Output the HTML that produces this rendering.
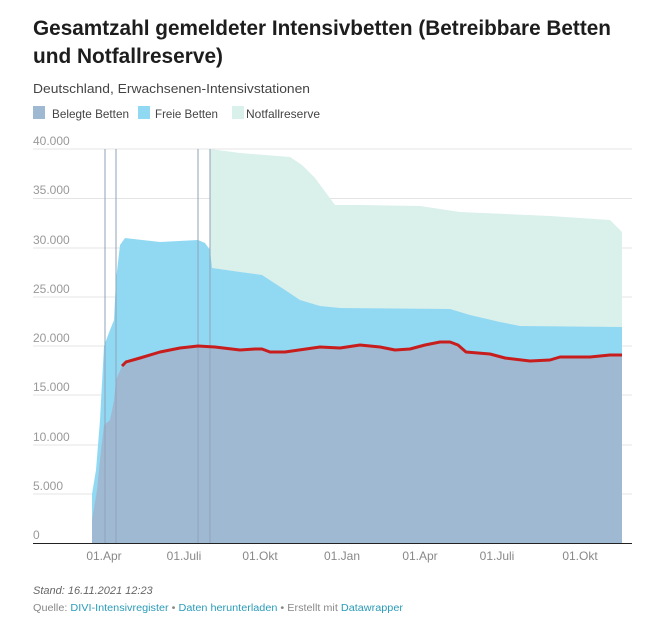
<!DOCTYPE html>
<html><head><meta charset="utf-8"><style>
html,body{margin:0;padding:0;background:#fff;width:658px;height:625px;overflow:hidden}
svg{display:block;font-family:"Liberation Sans",sans-serif}
</style></head><body>
<svg width="658" height="625" viewBox="0 0 658 625">
<text x="33" y="35" font-size="21" font-weight="bold" fill="#1d1d1d" textLength="578" lengthAdjust="spacingAndGlyphs">Gesamtzahl gemeldeter Intensivbetten (Betreibbare Betten</text>
<text x="33" y="63" font-size="21" font-weight="bold" fill="#1d1d1d" textLength="190" lengthAdjust="spacingAndGlyphs">und Notfallreserve)</text>
<text x="33" y="93" font-size="13" fill="#444" textLength="277" lengthAdjust="spacingAndGlyphs">Deutschland, Erwachsenen-Intensivstationen</text>
<rect x="33" y="106" width="12" height="13" fill="#a0b9d3"/>
<text x="52" y="118" font-size="12" fill="#444" textLength="77" lengthAdjust="spacingAndGlyphs">Belegte Betten</text>
<rect x="138" y="106" width="12" height="13" fill="#91d9f3"/>
<text x="155" y="118" font-size="12" fill="#444" textLength="63" lengthAdjust="spacingAndGlyphs">Freie Betten</text>
<rect x="232" y="106" width="12" height="13" fill="#daf0eb"/>
<text x="246" y="118" font-size="12" fill="#444" textLength="74" lengthAdjust="spacingAndGlyphs">Notfallreserve</text>
<g stroke="#e4e4e4" stroke-width="1">
<line x1="33" x2="632" y1="149" y2="149"/><line x1="33" x2="632" y1="198.5" y2="198.5"/>
<line x1="33" x2="632" y1="248" y2="248"/><line x1="33" x2="632" y1="297" y2="297"/>
<line x1="33" x2="632" y1="346" y2="346"/><line x1="33" x2="632" y1="395" y2="395"/>
<line x1="33" x2="632" y1="445" y2="445"/><line x1="33" x2="632" y1="494" y2="494"/>
</g>
<g font-size="12" fill="#999">
<text x="33" y="145">40.000</text><text x="33" y="194">35.000</text><text x="33" y="244">30.000</text>
<text x="33" y="293">25.000</text><text x="33" y="342">20.000</text><text x="33" y="391">15.000</text>
<text x="33" y="441">10.000</text><text x="33" y="490">5.000</text><text x="33" y="539">0</text>
</g>
<path fill="#daf0eb" d="M210,543 L210,149 L240,153 L290,157 L302,165 L315,178 L335,205 L360,205 L420,206 L460,212 L550,216 L610,220 L622,232 L622,543 Z"/>
<path fill="#91d9f3" d="M92,543 L92,494 L96,470 L100,420 L104,346 L110,330 L114,320 L116,280 L120,245 L125,238 L160,242 L198,240 L205,243 L210,250 L212,268 L240,272 L262,275 L285,290 L300,300 L320,306 L340,308 L450,309 L470,315 L500,322 L520,326 L622,327 L622,543 Z"/>
<path fill="#a0b9d3" d="M92,543 L92,520 L97,490 L101,450 L104,425 L110,420 L114,400 L116,380 L122,366 L140,358 L160,352 L180,348 L198,346 L215,347 L240,350 L262,349 L270,352 L285,352 L320,347 L340,348 L360,345 L380,347 L395,350 L410,349 L425,345 L445,342 L458,345 L466,352 L490,354 L505,358 L530,361 L550,360 L560,357 L590,357 L610,355 L622,355 L622,543 Z"/>
<g stroke="#8ea3b8" stroke-width="1">
<line x1="105" x2="105" y1="149" y2="543"/><line x1="116" x2="116" y1="149" y2="543"/>
<line x1="198" x2="198" y1="149" y2="543"/><line x1="210" x2="210" y1="149" y2="543"/>
</g>
<path fill="none" stroke="#c71e1d" stroke-width="3" stroke-linejoin="round" d="M122,366 L126,362 L140,358 L160,352 L180,348 L198,346 L215,347 L240,350 L255,349 L262,349 L270,352 L285,352 L320,347 L340,348 L360,345 L380,347 L395,350 L410,349 L425,345 L440,342 L450,342 L458,345 L466,352 L490,354 L505,358 L530,361 L550,360 L560,357 L590,357 L610,355 L622,355"/>
<line x1="33" x2="632" y1="543.5" y2="543.5" stroke="#222" stroke-width="1"/>
<g font-size="12" fill="#888" text-anchor="middle">
<text x="104" y="560">01.Apr</text><text x="184" y="560">01.Juli</text><text x="260" y="560">01.Okt</text>
<text x="342" y="560">01.Jan</text><text x="420" y="560">01.Apr</text><text x="497" y="560">01.Juli</text><text x="580" y="560">01.Okt</text>
</g>
<text x="33" y="594" font-size="11" font-style="italic" fill="#666">Stand: 16.11.2021 12:23</text>
<text x="33" y="611" font-size="10" fill="#888" textLength="370" lengthAdjust="spacingAndGlyphs">Quelle: <tspan fill="#2a9bb8">DIVI-Intensivregister</tspan> • <tspan fill="#2a9bb8">Daten herunterladen</tspan> • Erstellt mit <tspan fill="#2a9bb8">Datawrapper</tspan></text>
</svg>
</body></html>
